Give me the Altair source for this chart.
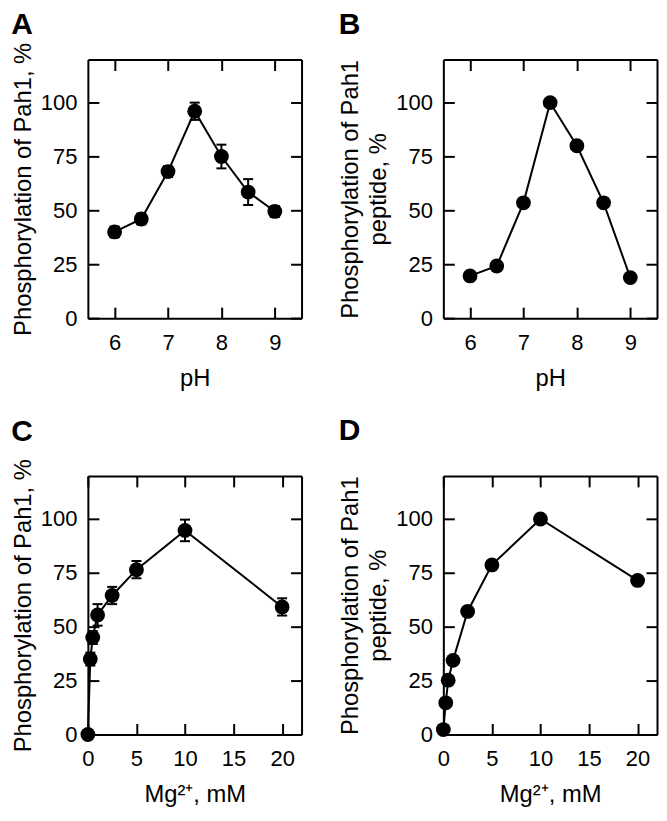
import altair as alt
import pandas as pd

# ---- data ----
ph = [6, 6.5, 7, 7.5, 8, 8.5, 9]
pah1_ph = [40, 46, 68, 96, 75, 58.5, 49.5]
pah1_ph_err = [2.5, 2.5, 2.5, 4, 5.5, 6, 2.5]
peptide_ph = [19.6, 24.2, 53.5, 100, 80, 53.5, 18.8]

mg = [0, 0.25, 0.5, 1, 2.5, 5, 10, 20]
pah1_mg = [0, 35, 45, 55.5, 64.5, 76.5, 94.7, 59.2]
pah1_mg_err = [0, 3, 3, 5, 4, 4, 5, 4]
peptide_mg = [2.3, 14.7, 25.2, 34.4, 57.1, 78.7, 100, 71.5]

ph_ticks = [6, 7, 8, 9]
mg_ticks = [0, 5, 10, 15, 20]
y_ticks = [0, 25, 50, 75, 100]

FONT = "Liberation Sans"
W, H = 214, 259
TICK = 11
TITLE_SIZE = 23.8


def panel(x, y, err, xdom, xticks, xtitle, ytitle, letter, letter_offset):
    df = pd.DataFrame({"x": x, "y": y})
    if err is not None:
        df["lo"] = [v - e for v, e in zip(y, err)]
        df["hi"] = [v + e for v, e in zip(y, err)]
    xs = alt.Scale(domain=xdom, nice=False, zero=False)
    ys = alt.Scale(domain=[0, 120], nice=False, zero=False)
    frame = dict(domain=True, domainColor="black", domainWidth=2, ticks=False, grid=False)
    xaxis = alt.Axis(orient="bottom", values=xticks, labelFontSize=22, labelPadding=14,
                     labelFlush=False, title=xtitle, titleFontSize=TITLE_SIZE,
                     titleFontWeight="normal", titlePadding=13, format="d", **frame)
    yaxis = alt.Axis(orient="left", values=y_ticks, labelFontSize=22, labelPadding=11,
                     title=ytitle, titleFontSize=TITLE_SIZE, titleFontWeight="normal",
                     titlePadding=5, titleLineHeight=28, format="d", **frame)
    base = alt.Chart(df)
    layers = []
    line = base.mark_line(color="black", strokeWidth=2).encode(
        x=alt.X("x:Q", scale=xs, axis=xaxis), y=alt.Y("y:Q", scale=ys, axis=yaxis))
    layers.append(line)
    if err is not None:
        rule = base.mark_rule(color="black", strokeWidth=2).encode(
            x=alt.X("x:Q", scale=xs, axis=None), y=alt.Y("lo:Q", scale=ys, axis=None), y2="hi:Q")
        cap_lo = base.mark_tick(color="black", orient="horizontal", size=10, thickness=2, opacity=1).encode(
            x=alt.X("x:Q", scale=xs, axis=None), y=alt.Y("lo:Q", scale=ys, axis=None))
        cap_hi = base.mark_tick(color="black", orient="horizontal", size=10, thickness=2, opacity=1).encode(
            x=alt.X("x:Q", scale=xs, axis=None), y=alt.Y("hi:Q", scale=ys, axis=None))
        layers += [rule, cap_lo, cap_hi]
    pts = base.mark_circle(size=220, color="black", opacity=1).encode(
        x=alt.X("x:Q", scale=xs, axis=None), y=alt.Y("y:Q", scale=ys, axis=None))
    layers.append(pts)

    def tick_axis(orient, vals):
        return alt.Axis(orient=orient, values=vals, offset=-TICK, tickSize=TICK, tickWidth=2,
                        tickColor="black", labels=False, domain=False, grid=False, title=None,
                        minExtent=0, maxExtent=0)

    def frame_axis(orient):
        return alt.Axis(orient=orient, labels=False, title=None, minExtent=0, maxExtent=0, **frame)

    t1 = base.mark_point(opacity=0).encode(
        x=alt.X("x:Q", scale=xs, axis=tick_axis("bottom", xticks)),
        y=alt.Y("y:Q", scale=ys, axis=tick_axis("left", y_ticks)))
    t2 = base.mark_point(opacity=0).encode(
        x=alt.X("x:Q", scale=xs, axis=tick_axis("top", xticks)),
        y=alt.Y("y:Q", scale=ys, axis=tick_axis("right", y_ticks)))
    t3 = base.mark_point(opacity=0).encode(
        x=alt.X("x:Q", scale=xs, axis=frame_axis("top")),
        y=alt.Y("y:Q", scale=ys, axis=frame_axis("right")))
    layers += [t1, t2, t3]
    return alt.layer(*layers).resolve_axis(x="independent", y="independent").properties(
        width=W, height=H,
        title=alt.TitleParams(letter, anchor="start", fontSize=30, fontWeight="bold", font=FONT,
                              offset=letter_offset, color="black"))


pA = panel(ph, pah1_ph, pah1_ph_err, [5.5, 9.5], ph_ticks, "pH", "Phosphorylation of Pah1, %", "A", 2)
pB = panel(ph, peptide_ph, None, [5.5, 9.5], ph_ticks, "pH", ["Phosphorylation of Pah1", "peptide, %"], "B", 19)
pC = panel(mg, pah1_mg, pah1_mg_err, [0, 22], mg_ticks, "Mg²⁺, mM", "Phosphorylation of Pah1, %", "C", 12)
pD = panel(mg, peptide_mg, None, [0, 22], mg_ticks, "Mg²⁺, mM", ["Phosphorylation of Pah1", "peptide, %"], "D", 29)

chart = alt.vconcat(
    alt.hconcat(pA, pB, spacing=34),
    alt.hconcat(pC, pD, spacing=34),
    spacing=24,
).configure_view(stroke=None).configure_axis(
    labelFont=FONT, titleFont=FONT, labelColor="black", titleColor="black"
).configure(padding={"left": 2, "top": 0, "right": 0, "bottom": 0}, background="white")

chart.save("out.html", embed_options={"renderer": "svg", "actions": False})
